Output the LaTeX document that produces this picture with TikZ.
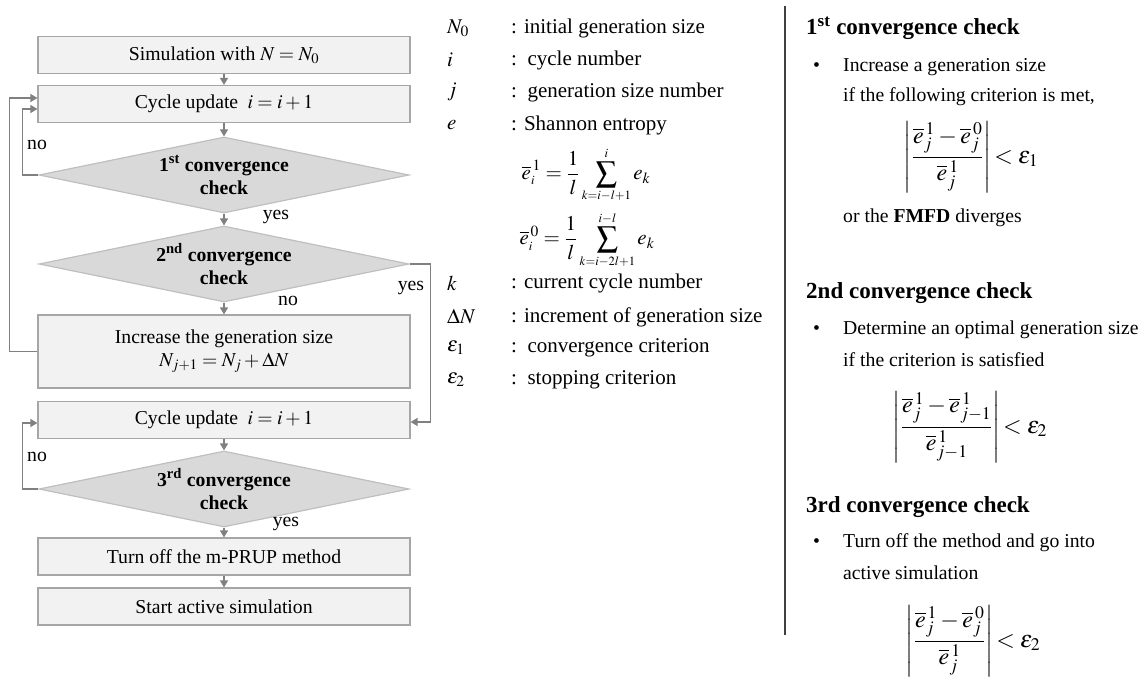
\documentclass[tikz,border=0pt]{standalone}
\usepackage{mathptmx}
\usepackage[no-math]{fontspec}
\setmainfont{Liberation Serif}
\usetikzlibrary{shapes.geometric,arrows.meta}
\definecolor{boxfill}{HTML}{F2F2F2}
\definecolor{boxline}{HTML}{A6A6A6}
\definecolor{diafill}{HTML}{D9D9D9}
\definecolor{dialine}{HTML}{BFBFBF}
\definecolor{arr}{HTML}{808080}
\newcommand\fflow{\fontsize{19.7}{23}\selectfont}
\newcommand\fleg{\fontsize{21}{25}\selectfont}
\newcommand\fbody{\fontsize{19.7}{23}\selectfont}
\newcommand\fhead{\fontsize{23}{27}\selectfont\bfseries}
\newcommand\fform{\fontsize{24}{28}\selectfont}
\newcommand\smlim[1]{{\scriptscriptstyle #1}}
\begin{document}
\begin{tikzpicture}[x=1pt,y=-1pt,
  proc/.style={draw=boxline, fill=boxfill, line width=1.2pt, minimum width=372pt,
    minimum height=37pt, inner sep=0pt, font=\fflow, align=center},
  dec/.style={diamond, draw=dialine, fill=diafill, line width=1.2pt, aspect=4.87,
    minimum width=370pt, minimum height=76pt, inner sep=0pt, font=\fflow\bfseries, align=center},
  conn/.style={draw=arr, line width=1.5pt, -{Triangle[length=7pt,width=8pt]}},
  lab/.style={font=\fflow, inner sep=0pt},
  leg/.style={font=\fleg, anchor=west, inner sep=0pt},
  body/.style={font=\fbody, anchor=west, inner sep=0pt},
  head/.style={font=\fhead, anchor=west, inner sep=0pt},
  form/.style={font=\fform, inner sep=0pt}]
\useasboundingbox (0,0) rectangle (1147,680);
% flowchart
\node[proc] (sim) at (224,55) {Simulation with $N=N_0$};
\node[proc] (cu1) at (224,104) {Cycle update $\;i=i+1$};
\node[dec] (d1) at (224,175) {1\textsuperscript{st} convergence\\check};
\node[dec] (d2) at (224,264) {2\textsuperscript{nd} convergence\\check};
\node[proc, minimum height=73pt] (inc) at (224,351.5) {Increase the generation size\\$N_{j+1}=N_j+\Delta N$};
\node[proc] (cu2) at (224,420) {Cycle update $\;i=i+1$};
\node[dec] (d3) at (224,489) {3\textsuperscript{rd} convergence\\check};
\node[proc] (off) at (224,556.5) {Turn off the m-PRUP method};
\node[proc] (act) at (224,606.5) {Start active simulation};
\draw[conn] (sim) -- (cu1);
\draw[conn] (cu1) -- (d1);
\draw[conn] (d1) -- (d2);
\draw[conn] (d2) -- (inc);
\draw[conn] (cu2) -- (d3);
\draw[conn] (d3) -- (off);
\draw[conn] (off) -- (act);
\draw[conn] (d1.west) -- ++(-16,0) |- ([yshift=-5pt]cu1.west);
\draw[conn] (inc.west) -- ++(-28,0) |- ([yshift=6pt]cu1.west);
\draw[conn] (d2.east) -- ++(21,0) |- ([yshift=-2pt]cu2.east);
\draw[conn] (d3.west) -- ++(-16,0) |- ([yshift=-3pt]cu2.west);
\node[lab] (no1) at (37,145) {no};
\node[lab] (yes1) at (276,217) {yes};
\node[lab] (no2) at (288,301) {no};
\node[lab] (yes2) at (411,288) {yes};
\node[lab] (no3) at (37,457) {no};
\node[lab] (yes3) at (286,524) {yes};
% legend
\node[leg] (sN) at (447,28) {$N_0$};
\node[leg] (tN) at (511,28) {: initial generation size};
\node[leg] (si) at (447,60) {$i$};
\node[leg] (ti) at (511,60) {:\, cycle number};
\node[leg] (sj) at (447,92) {$j$};
\node[leg] (tj) at (511,92) {:\, generation size number};
\node[leg] (se) at (447,125) {$e$};
\node[leg] (te) at (511,125) {: Shannon entropy};
\node[leg, anchor=center] (f1) at (586,175) {$\displaystyle \overline{e}_{\smlim{i}}^{\,1}=\frac{1}{l}\sum_{\smlim{k=i-l+1}}^{\smlim{i}}e_k$};
\node[leg, anchor=center] (f2) at (587,240) {$\displaystyle \overline{e}_{\smlim{i}}^{\,0}=\frac{1}{l}\sum_{\smlim{k=i-2l+1}}^{\smlim{i-l}}e_k$};
\node[leg] (sk) at (447,283) {$k$};
\node[leg] (tk) at (511,283) {: current cycle number};
\node[leg] (sD) at (447,317) {$\Delta N$};
\node[leg] (tD) at (511,317) {: increment of generation size};
\node[leg] (s1) at (447,348) {$\varepsilon_1$};
\node[leg] (t1) at (511,348) {:\, convergence criterion};
\node[leg] (s2) at (447,380) {$\varepsilon_2$};
\node[leg] (t2) at (511,380) {:\, stopping criterion};
% separator
\draw[line width=1.5pt, black!75] (785,6) coordinate (sepT) -- (785,635) coordinate (sepB);
% right panel
\node[head] (h1) at (806,28) {1\textsuperscript{st} convergence check};
\node[body] (b1) at (813,67) {•};
\node[body] (r1a) at (843,67) {Increase a generation size};
\node[body] (r1b) at (843,97) {if the following criterion is met,};
\node[form] (g1) at (971,157) {$\displaystyle\left|\frac{\rule[-6pt]{0pt}{24pt}\overline{e}^{\,1}_j-\overline{e}^{\,0}_j}{\rule[-9pt]{0pt}{23pt}\overline{e}^{\,1}_j}\right|\!<\varepsilon_1$};
\node[body] (r1c) at (843,218) {or the \textbf{FMFD} diverges};
\node[head] (h2) at (806,293) {2nd convergence check};
\node[body] (b2) at (813,330) {•};
\node[body] (r2a) at (843,330) {Determine an optimal generation size};
\node[body] (r2b) at (843,360) {if the criterion is satisfied};
\node[form] (g2) at (970,427) {$\displaystyle\left|\frac{\rule[-6pt]{0pt}{24pt}\overline{e}^{\,1}_j-\overline{e}^{\,1}_{j-1}}{\rule[-9pt]{0pt}{23pt}\overline{e}^{\,1}_{j-1}}\right|\!<\varepsilon_2$};
\node[head] (h3) at (806,507) {3rd convergence check};
\node[body] (b3) at (813,543) {•};
\node[body] (r3a) at (843,543) {Turn off the method and go into};
\node[body] (r3b) at (843,573) {active simulation};
\node[form] (g3) at (973,641) {$\displaystyle\left|\frac{\rule[-6pt]{0pt}{24pt}\overline{e}^{\,1}_j-\overline{e}^{\,0}_j}{\rule[-9pt]{0pt}{23pt}\overline{e}^{\,1}_j}\right|\!<\varepsilon_2$};
\end{tikzpicture}
\end{document}
